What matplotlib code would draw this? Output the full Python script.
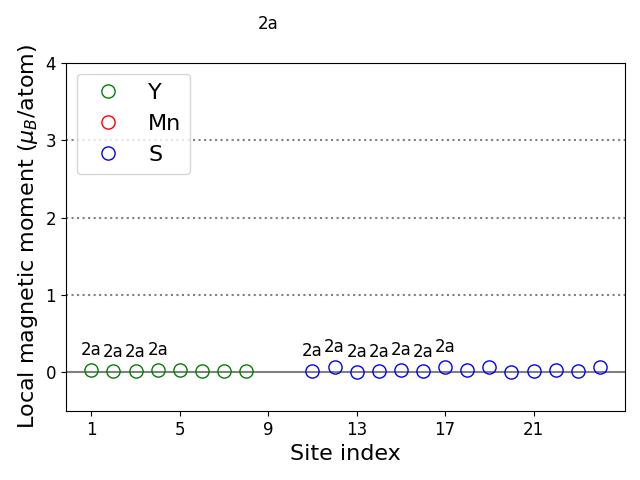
import numpy as np
import matplotlib
matplotlib.use("Agg")
import matplotlib.pyplot as plt

# site indices and local moments (mu_B/atom)
y_sites = [1, 2, 3, 4, 5, 6, 7, 8]
y_moments = [0.03, 0.01, 0.01, 0.03, 0.03, 0.01, 0.01, 0.02]
mn_sites = [9, 10]
mn_moments = [4.25, 4.25]
s_sites = [11, 12, 13, 14, 15, 16, 17, 18, 19, 20, 21, 22, 23, 24]
s_moments = [0.02, 0.07, 0.0, 0.01, 0.03, 0.01, 0.07, 0.03, 0.07, 0.0, 0.01, 0.03, 0.01, 0.07]

# Wyckoff labels for the first half of each species
y_labels = ["2a", "2a", "2a", "2a"]
mn_labels = ["2a"]
s_labels = ["2a", "2a", "2a", "2a", "2a", "2a", "2a"]

fig, ax = plt.subplots(figsize=(6.4, 4.8), dpi=100)

for v in [1, 2, 3]:
    ax.axhline(v, color="gray", ls=":", lw=1.5, zorder=0)
ax.axhline(0, color="gray", ls="-", lw=1.5, zorder=0)

ax.plot(y_sites, y_moments, "o", mfc="none", mec="green", ms=9.5, label="Y")
ax.plot(mn_sites, mn_moments, "o", mfc="none", mec="red", ms=9.5, label="Mn")
ax.plot(s_sites, s_moments, "o", mfc="none", mec="blue", ms=9.5, label="S")

for sites, moms, labs in [(y_sites, y_moments, y_labels),
                          (mn_sites, mn_moments, mn_labels),
                          (s_sites, s_moments, s_labels)]:
    for x, m, t in zip(sites, moms, labs):
        ax.text(x, m + 0.14, t, ha="center", va="bottom", fontsize=12)

ax.set_ylim(-0.5, 4)
ax.set_xticks([1, 5, 9, 13, 17, 21])
ax.set_yticks([0, 1, 2, 3, 4])
ax.tick_params(labelsize=12)
ax.set_xlabel("Site index", fontsize=16)
ax.set_ylabel(r"Local magnetic moment ($\mu_B$/atom)", fontsize=16)
ax.legend(loc="upper left", fontsize=16)

plt.subplots_adjust(left=0.103, right=0.977, bottom=0.144, top=0.869)
plt.savefig("out.png")
